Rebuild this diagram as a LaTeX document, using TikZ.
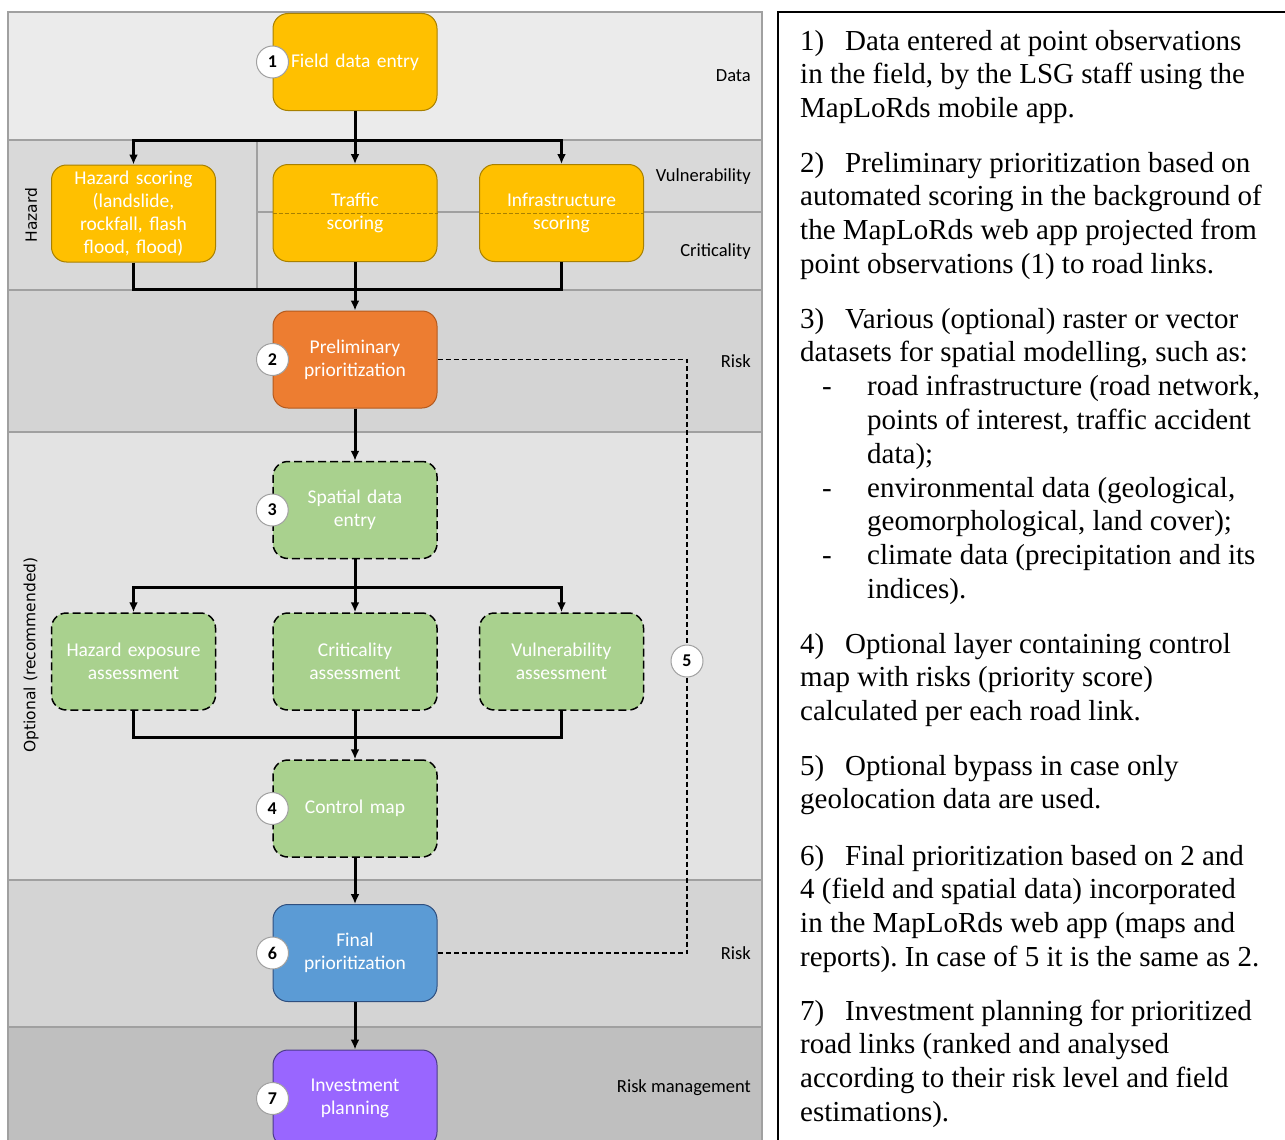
\documentclass[tikz,border=0pt]{standalone}
\usepackage{fontspec}
\setmainfont{Liberation Serif}
\newfontfamily\boxfamily{Carlito}
\newfontfamily\sidefamily{DejaVu Sans}
\usetikzlibrary{arrows.meta}
\frenchspacing

\definecolor{lanedata}{HTML}{EBEBEB}
\definecolor{lanescore}{HTML}{D9D9D9}
\definecolor{lanerisk}{HTML}{D4D4D4}
\definecolor{laneopt}{HTML}{E3E3E3}
\definecolor{lanemgmt}{HTML}{BFBFBF}
\definecolor{laneline}{HTML}{A0A0A0}
\definecolor{goldfill}{HTML}{FFC000}
\definecolor{goldline}{HTML}{A88000}
\definecolor{orangefill}{HTML}{ED7D31}
\definecolor{orangeline}{HTML}{B45A1E}
\definecolor{greenfill}{HTML}{A9D18E}
\definecolor{bluefill}{HTML}{5B9BD5}
\definecolor{blueline}{HTML}{2F4F7F}
\definecolor{purplefill}{HTML}{9966FF}
\definecolor{purpleline}{HTML}{4B3A8A}

\newcommand\boxtext{\boxfamily\fontsize{19.5}{23}\selectfont}
\newcommand\numtext{\boxfamily\bfseries\fontsize{18}{20}\selectfont}
\newcommand\paratext{\fontsize{29}{33.8}\selectfont}

\tikzset{
  lanerule/.style={draw=laneline,line width=2pt},
  stepbox/.style={rounded corners=15pt,minimum width=164pt,minimum height=97pt,
    text width=156pt,align=center,font=\boxtext,text=white,line width=1pt},
  fieldbox/.style={stepbox,fill=goldfill,draw=goldline},
  riskbox/.style={stepbox,fill=orangefill,draw=orangeline},
  optbox/.style={stepbox,fill=greenfill,draw=black,line width=1.5pt,dash pattern=on 8pt off 4pt},
  finalbox/.style={stepbox,fill=bluefill,draw=blueline},
  planbox/.style={stepbox,fill=purplefill,draw=purpleline},
  numdot/.style={circle,draw=laneline,fill=white,line width=1pt,minimum size=32pt,inner sep=0pt,font=\numtext},
  bandlabel/.style={anchor=east,inner sep=0pt,font=\boxfamily\fontsize{18.5}{22}\selectfont},
  sidelabel/.style={rotate=90,inner sep=0pt,font=\sidefamily\fontsize{15.5}{18}\selectfont},
  link/.style={line width=3pt,line join=miter},
  arr/.style={link,-{Latex[length=10pt,width=9pt]}},
  bypass/.style={line width=1.3pt,dash pattern=on 5pt off 3pt},
  scoredash/.style={draw=goldline,line width=0.8pt,dash pattern=on 4pt off 2pt},
  para/.style={anchor=north west,inner sep=0pt,align=left,font=\paratext}
}

\begin{document}
\begin{tikzpicture}[x=1pt,y=-1pt]
\useasboundingbox (0,0) rectangle (1285,1140);
\clip (0,0) rectangle (1285,1140);

% lanes
\fill[lanedata] (8,12) rectangle (762,140);
\fill[lanescore] (8,140) rectangle (762,290);
\fill[lanerisk] (8,290) rectangle (762,432);
\fill[laneopt] (8,432) rectangle (762,880);
\fill[lanerisk] (8,880) rectangle (762,1027);
\fill[lanemgmt] (8,1027) rectangle (762,1150);
\draw[lanerule] (8,1150) -- (8,12) -- (762,12) -- (762,1150);
\foreach \y in {140,290,432,880,1027}
  \draw[lanerule] (8,\y) -- (762,\y);
\draw[lanerule] (257,140) -- (257,290);
\draw[lanerule,line width=1.2pt] (257,212) -- (762,212);

% text panel
\draw[line width=2pt] (778,1150) -- (778,12) -- (1295,12);

% steps
\node[fieldbox] (field) at (355,62) {Field data entry};
\node[fieldbox] (haz) at (133.5,213.5) {Hazard scoring\\(landslide,\\rockfall, flash\\flood, flood)};
\node[fieldbox] (traf) at (355,213) {Traffic\\scoring};
\node[fieldbox] (infra) at (561.5,213) {Infrastructure\\scoring};
\node[riskbox] (prelim) at (355,359.5) {Preliminary\\prioritization};
\node[optbox] (spatial) at (355,510) {Spatial data\\entry};
\node[optbox] (hexp) at (133.5,661.5) {Hazard exposure\\assessment};
\node[optbox] (crit) at (355,661.5) {Criticality\\assessment};
\node[optbox] (vuln) at (561.5,661.5) {Vulnerability\\assessment};
\node[optbox] (ctrl) at (355,808.5) {Control map};
\node[finalbox] (final) at (355,953) {Final\\prioritization};
\node[planbox] (invest) at (355,1098.5) {Investment\\planning};

\draw[scoredash] (traf.west) -- (traf.east);
\draw[scoredash] (infra.west) -- (infra.east);

% flow
\coordinate (split1) at (355,140);
\coordinate (join1) at (355,289);
\coordinate (split2) at (355,587);
\coordinate (join2) at (355,737);

\draw[link] (field) -- (split1);
\draw[arr] (split1) -| (haz.north);
\draw[arr] (split1) -| (infra.north);
\draw[arr] (split1) -- (traf.north);

\draw[link] (haz.south) |- (join1) -| (infra.south);
\draw[link] (traf.south) -- (join1);
\draw[arr] (join1) -- (prelim.north);

\draw[arr] (prelim) -- (spatial);

\draw[link] (spatial) -- (split2);
\draw[arr] (split2) -| (hexp.north);
\draw[arr] (split2) -| (vuln.north);
\draw[arr] (split2) -- (crit.north);

\draw[link] (hexp.south) |- (join2) -| (vuln.south);
\draw[link] (crit.south) -- (join2);
\draw[arr] (join2) -- (ctrl.north);

\draw[arr] (ctrl) -- (final);
\draw[arr] (final) -- (invest);

% bypass
\node[numdot] (n5) at (687,661) {5};
\draw[bypass] (prelim.east) -| (n5.north);
\draw[bypass] (n5.south) |- (final.east);

% step numbers
\node[numdot] (n1) at (field.west) {1};
\node[numdot] (n2) at (prelim.west) {2};
\node[numdot] (n3) at (spatial.west) {3};
\node[numdot] (n4) at (ctrl.west) {4};
\node[numdot] (n6) at (final.west) {6};
\node[numdot] (n7) at (invest.west) {7};

% lane names
\node[bandlabel] (ldata) at (751,76) {Data};
\node[bandlabel] (lvuln) at (751,177) {Vulnerability};
\node[bandlabel] (lcrit) at (751,252) {Criticality};
\node[bandlabel] (lrisk) at (751,361) {Risk};
\node[bandlabel] (lrisk2) at (751,953) {Risk};
\node[bandlabel] (lmgmt) at (751,1088) {Risk management};
\node[sidelabel] (lhaz) at (31,215) {Hazard};
\node[sidelabel] (lopt) at (31,655) {Optional (recommended)};

% notes
\node[para] (p1) at (800,26.3) {\strut\makebox[45pt][l]{1)}Data entered at point observations\\
in the field, by the LSG staff using the\\
MapLoRds mobile app.};
\node[para] (p2) at (800,148.3) {\strut\makebox[45pt][l]{2)}Preliminary prioritization based on\\
automated scoring in the background of\\
the MapLoRds web app projected from\\
point observations (1) to road links.};
\node[para] (p3) at (800,304.3) {\strut\makebox[45pt][l]{3)}Various (optional) raster or vector\\
datasets for spatial modelling, such as:\\
\makebox[67pt][l]{\hspace{22pt}-}road infrastructure (road network,\\
\makebox[67pt]{}points of interest, traffic accident\\
\makebox[67pt]{}data);\\
\makebox[67pt][l]{\hspace{22pt}-}environmental data (geological,\\
\makebox[67pt]{}geomorphological, land cover);\\
\makebox[67pt][l]{\hspace{22pt}-}climate data (precipitation and its\\
\makebox[67pt]{}indices).};
\node[para] (p4) at (800,629.3) {\strut\makebox[45pt][l]{4)}Optional layer containing control\\
map with risks (priority score)\\
calculated per each road link.};
\node[para] (p5) at (800,751.3) {\strut\makebox[45pt][l]{5)}Optional bypass in case only\\
geolocation data are used.};
\node[para] (p6) at (800,841.3) {\strut\makebox[45pt][l]{6)}Final prioritization based on 2 and\\
4 (field and spatial data) incorporated\\
in the MapLoRds web app (maps and\\
reports). In case of 5 it is the same as 2.};
\node[para] (p7) at (800,996.3) {\strut\makebox[45pt][l]{7)}Investment planning for prioritized\\
road links (ranked and analysed\\
according to their risk level and field\\
estimations).};

\end{tikzpicture}
\end{document}
